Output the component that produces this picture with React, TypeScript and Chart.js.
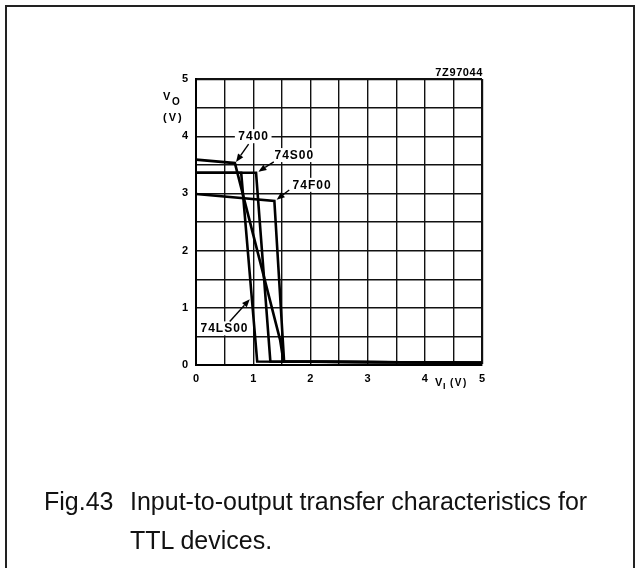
import React, { useEffect, useRef } from 'react';
import { Chart, registerables } from 'chart.js';

Chart.register(...registerables);

// Axis ticks (labels shown only at integers, grid every 0.5)
const xTickValues = [0, 1, 2, 3, 4, 5];
const yTickValues = [0, 1, 2, 3, 4, 5];

// Input voltage V_I (V) / output voltage V_O (V)
const vin7400 = [0, 0.68, 1.47, 1.53, 5];
const vout7400 = [3.59, 3.53, 0.44, 0.06, 0.04];
const vinLS00 = [0, 0.79, 1.07, 5];
const voutLS00 = [3.36, 3.36, 0.06, 0.04];
const vinS00 = [0, 1.05, 1.3, 5];
const voutS00 = [3.36, 3.36, 0.06, 0.04];
const vinF00 = [0, 1.37, 1.54, 5];
const voutF00 = [2.99, 2.87, 0.06, 0.04];

// Curve labels with arrows (data units)
const labelNames = ['7400', '74S00', '74F00', '74LS00'];
const labelX = [1.0, 1.71, 2.02, 0.49];
const labelY = [4.0, 3.67, 3.15, 0.64];
const arrowFromX = [0.92, 1.36, 1.63, 0.59];
const arrowFromY = [3.86, 3.55, 3.06, 0.76];
const arrowToX = [0.7, 1.09, 1.41, 0.94];
const arrowToY = [3.55, 3.38, 2.89, 1.15];

const figureCode = '7Z97044';
const captionNumber = 'Fig.43';
const captionLines = ['Input-to-output transfer characteristics for', 'TTL devices.'];

const FONT = '"Liberation Sans", Arial, Helvetica, sans-serif';

function pts(xs: number[], ys: number[]) {
  return xs.map((v, i) => ({ x: v, y: ys[i] }));
}

const annotPlugin = {
  id: 'annot',
  afterDatasetsDraw(chart: any) {
    const { ctx, chartArea, scales } = chart;
    const sx = scales.x;
    const sy = scales.y;
    ctx.save();
    // curve labels and arrows
    ctx.font = `bold 12px ${FONT}`;
    (ctx as any).letterSpacing = '1px';
    ctx.textAlign = 'center';
    ctx.textBaseline = 'middle';
    labelNames.forEach((t, i) => {
      const px = sx.getPixelForValue(labelX[i]);
      const py = sy.getPixelForValue(labelY[i]);
      const w = ctx.measureText(t).width;
      ctx.fillStyle = '#fff';
      ctx.fillRect(px - w / 2 - 3, py - 7, w + 6, 14);
      ctx.fillStyle = '#000';
      ctx.fillText(t, px + 0.5, py + 0.5);
      const x1 = sx.getPixelForValue(arrowFromX[i]);
      const y1 = sy.getPixelForValue(arrowFromY[i]);
      const x2 = sx.getPixelForValue(arrowToX[i]);
      const y2 = sy.getPixelForValue(arrowToY[i]);
      const ang = Math.atan2(y2 - y1, x2 - x1);
      const L = 8, H = 3.2;
      const bx = x2 - L * Math.cos(ang), by = y2 - L * Math.sin(ang);
      ctx.strokeStyle = '#000';
      ctx.lineWidth = 1.4;
      ctx.beginPath();
      ctx.moveTo(x1, y1);
      ctx.lineTo(bx, by);
      ctx.stroke();
      ctx.beginPath();
      ctx.moveTo(x2, y2);
      ctx.lineTo(bx + H * Math.sin(ang), by - H * Math.cos(ang));
      ctx.lineTo(bx - H * Math.sin(ang), by + H * Math.cos(ang));
      ctx.closePath();
      ctx.fill();
    });

    // axis titles
    const { left, right, top, bottom } = chartArea;
    ctx.fillStyle = '#000';
    ctx.textAlign = 'left';
    (ctx as any).letterSpacing = '0px';
    ctx.font = `bold 11px ${FONT}`;
    ctx.fillText('V', left - 33, top + 18);
    ctx.font = `bold 10px ${FONT}`;
    ctx.fillText('O', left - 24, top + 23);
    ctx.font = `bold 11px ${FONT}`;
    (ctx as any).letterSpacing = '2px';
    ctx.fillText('(V)', left - 33, top + 39);

    (ctx as any).letterSpacing = '0px';
    ctx.fillText('V', right - 47, bottom + 18);
    ctx.font = `bold 9px ${FONT}`;
    ctx.fillText('I', right - 39, bottom + 22);
    ctx.font = `bold 10px ${FONT}`;
    (ctx as any).letterSpacing = '1.5px';
    ctx.fillText('(V)', right - 32, bottom + 18);

    ctx.font = `bold 11px ${FONT}`;
    (ctx as any).letterSpacing = '0.6px';
    ctx.textAlign = 'right';
    ctx.fillText(figureCode, right + 1, top - 6);
    ctx.restore();
  },
};

export default function App() {
  const ref = useRef<HTMLCanvasElement | null>(null);

  useEffect(() => {
    if (!ref.current) return;
    const mk = (xs: number[], ys: number[]) => ({
      data: pts(xs, ys),
      showLine: true,
      borderColor: '#000',
      borderWidth: 2.6,
      pointRadius: 0,
      fill: false,
      tension: 0,
    });
    const gridOpts = {
      color: '#111',
      lineWidth: (c: any) => (c.tick && c.tick.value === 5 ? 2.2 : 1.4),
      drawTicks: false,
    };
    const chart = new Chart(ref.current, {
      type: 'scatter',
      data: {
        datasets: [
          { label: '7400', ...mk(vin7400, vout7400) },
          { label: '74LS00', ...mk(vinLS00, voutLS00) },
          { label: '74S00', ...mk(vinS00, voutS00) },
          { label: '74F00', ...mk(vinF00, voutF00) },
        ],
      },
      options: {
        animation: false,
        responsive: false,
        layout: { padding: { left: 166, right: 158, top: 79, bottom: 173 } },
        plugins: { legend: { display: false }, tooltip: { enabled: false } },
        scales: {
          x: {
            type: 'linear',
            min: 0,
            max: 5,
            afterFit: (s: any) => { s.height = 30; },
            ticks: {
              stepSize: 0.5,
              autoSkip: false,
              maxRotation: 0,
              padding: 7,
              color: '#000',
              font: { family: FONT, size: 11, weight: 'bold' },
              callback: (v: any) => (xTickValues.includes(Number(v)) ? String(v) : ''),
            },
            grid: gridOpts,
            border: { color: '#000', width: 2 },
          },
          y: {
            type: 'linear',
            min: 0,
            max: 5,
            afterFit: (s: any) => { s.width = 30; },
            ticks: {
              stepSize: 0.5,
              autoSkip: false,
              padding: 8,
              color: '#000',
              font: { family: FONT, size: 11, weight: 'bold' },
              callback: (v: any) => (yTickValues.includes(Number(v)) ? String(v) : ''),
            },
            grid: gridOpts,
            border: { color: '#000', width: 2 },
          },
        },
      },
      plugins: [annotPlugin],
    });
    return () => chart.destroy();
  }, []);

  return (
    <div style={{ position: 'fixed', left: 0, top: 0, width: 640, height: 568, background: '#fff', overflow: 'hidden' }}>
      <div
        style={{
          position: 'absolute', left: 5, top: 5, width: 626, height: 600,
          borderLeft: '2px solid #222', borderTop: '2px solid #222', borderRight: '2px solid #222',
        }}
      />
      <canvas ref={ref} width={640} height={568} style={{ position: 'absolute', left: 0, top: 0 }} />
      <div
        style={{
          position: 'absolute', left: 44, top: 482, fontFamily: FONT, fontSize: 25,
          lineHeight: '39px', color: '#111', whiteSpace: 'nowrap',
        }}
      >
        {captionNumber}
      </div>
      <div
        style={{
          position: 'absolute', left: 130, top: 482, fontFamily: FONT, fontSize: 25,
          lineHeight: '39px', color: '#111', whiteSpace: 'nowrap',
        }}
      >
        {captionLines.map((l, i) => (
          <div key={i}>{l}</div>
        ))}
      </div>
    </div>
  );
}
